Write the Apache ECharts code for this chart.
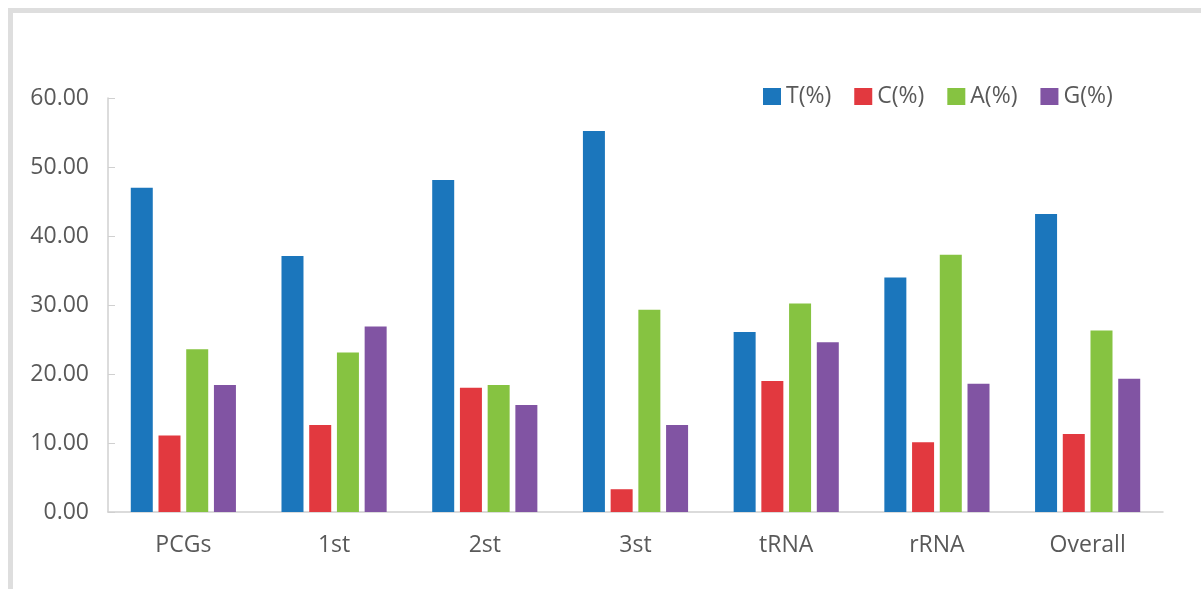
<!DOCTYPE html>
<html>
<head>
<meta charset="utf-8">
<script src="https://cdn.jsdelivr.net/npm/echarts@6/dist/echarts.min.js"></script>
<style>
  html, body { margin: 0; padding: 0; background: #fff; }
  #chart { width: 1201px; height: 589px; }
</style>
</head>
<body>
<div id="chart"></div>
<script>
// categories on the x axis
var categories = ["PCGs", "1st", "2st", "3st", "tRNA", "rRNA", "Overall"];
// base composition (%)
var tValues = [47.0, 37.1, 48.1, 55.2, 26.1, 34.0, 43.2];
var cValues = [11.1, 12.6, 18.0, 3.3, 19.0, 10.1, 11.3];
var aValues = [23.6, 23.1, 18.4, 29.3, 30.2, 37.3, 26.3];
var gValues = [18.4, 26.9, 15.5, 12.6, 24.6, 18.6, 19.3];
var seriesNames = ["T(%)", "C(%)", "A(%)", "G(%)"];
var colors = ["#1b76bc", "#e2393f", "#86c341", "#8154a3"];

var myChart = echarts.init(document.getElementById("chart"));
var textColor = "#595959";
var font = "'Open Sans', sans-serif";

function makeBar(i, values) {
  return {
    name: seriesNames[i],
    type: "bar",
    data: values,
    barWidth: 22,
    barGap: "26%",
    itemStyle: { color: colors[i] }
  };
}

var option = {
  animation: false,
  backgroundColor: "#fff",
  // frame lines top and left
  graphic: [
    { type: "rect", shape: { x: 8, y: 8, width: 1193, height: 5 }, style: { fill: "#dedede" } },
    { type: "rect", shape: { x: 8, y: 8, width: 5, height: 581 }, style: { fill: "#dedede" } }
  ],
  legend: {
    data: seriesNames,
    left: 758,
    top: 80,
    itemWidth: 18,
    itemHeight: 17,
    itemGap: 23,
    icon: "rect",
    textStyle: { color: textColor, fontSize: 23, fontFamily: font }
  },
  grid: { left: 108, right: 38, top: 98, bottom: 77 },
  xAxis: {
    type: "category",
    data: categories,
    axisLine: { lineStyle: { color: "#d0d0d0", width: 1.5 } },
    axisTick: { inside: true, length: 9, lineStyle: { color: "#d0d0d0" } },
    axisLabel: { color: textColor, fontSize: 23, fontFamily: font, margin: 22 }
  },
  yAxis: {
    type: "value",
    min: 0,
    max: 60,
    interval: 10,
    splitLine: { show: false },
    axisLine: { show: true, lineStyle: { color: "#d0d0d0", width: 1.5 } },
    axisTick: { show: true, inside: true, length: 7, lineStyle: { color: "#d0d0d0" } },
    axisLabel: {
      color: textColor, fontSize: 23, fontFamily: font, margin: 19,
      formatter: function (v) { return v.toFixed(2); }
    }
  },
  series: [
    makeBar(0, tValues),
    makeBar(1, cValues),
    makeBar(2, aValues),
    makeBar(3, gValues)
  ]
};

myChart.setOption(option);
</script>
</body>
</html>
